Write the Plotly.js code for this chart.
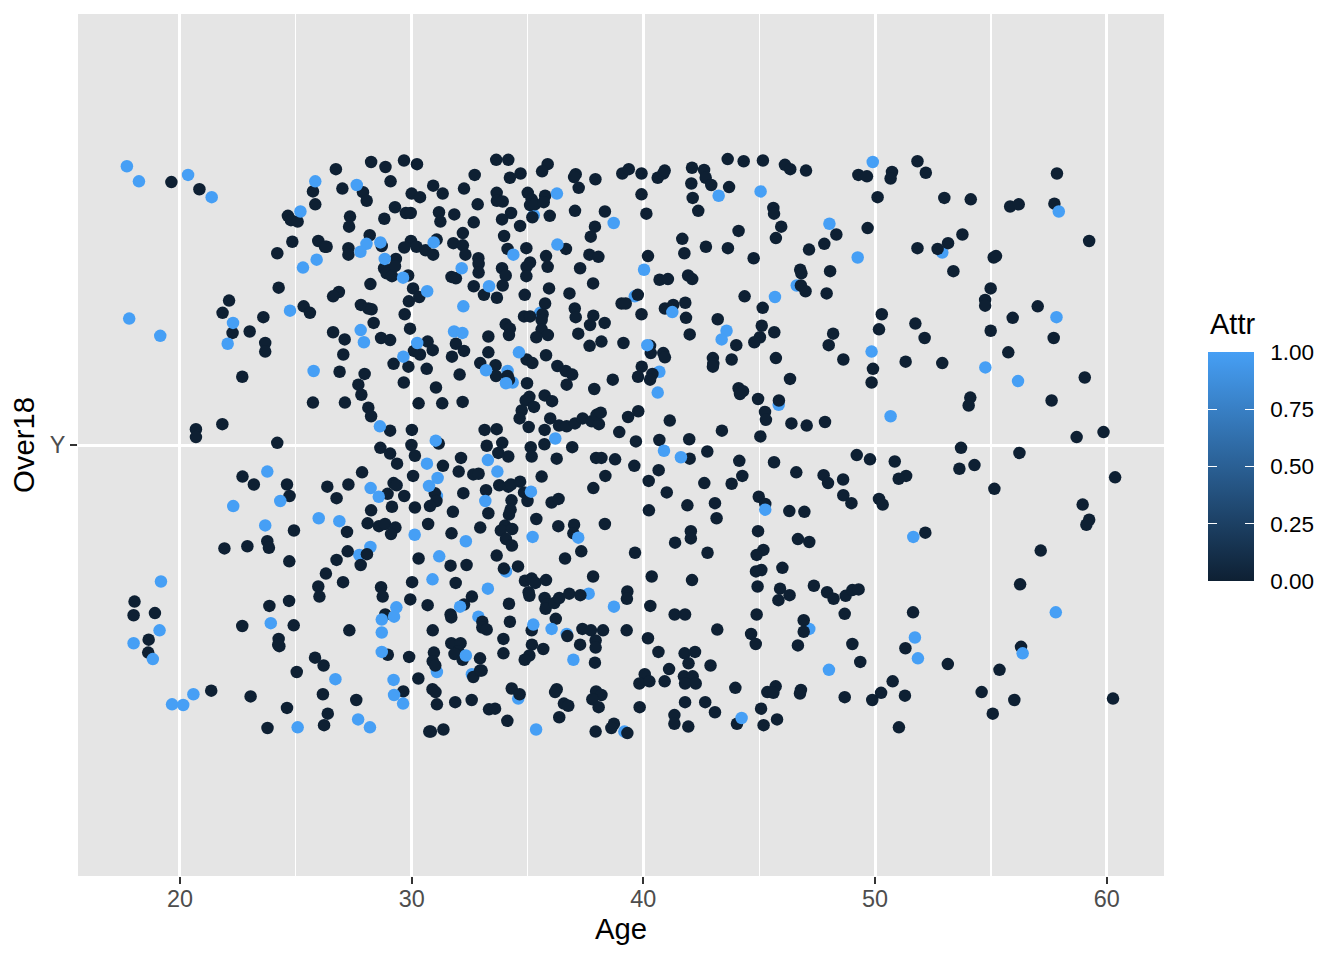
<!DOCTYPE html>
<html><head><meta charset="utf-8">
<script src="https://cdn.plot.ly/plotly-3.0.1.min.js"></script>
<style>html,body{margin:0;padding:0;background:#fff}#c{width:1344px;height:960px}</style>
</head><body><div id="c"></div>
<script>
// Each pair is [Age, jittered position of the single Over18 category "Y"]
const lightUnder = [[35.27,1.320],[46.62,1.222],[52.90,1.268],[39.63,1.207],[34.07,.824],[47.16,.744],[36.69,.737],[39.18,.601],[34.60,.647],[45.84,1.056],[32.60,.681],[34.14,1.103],[34.36,1.087],[29.07,1.240],[31.09,.929],[40.69,1.102],[32.88,.761],[37.64,.793],[28.22,.858],[27.74,.847],[31.09,.684],[35.55,1.184]];
const dark = [
[19.63,1.366],[20.84,1.356],[26.73,1.384],[28.25,1.394],[28.87,1.387],[25.74,1.353],[27.01,1.357],[27.90,1.352],[28.06,1.340],[29.09,1.367],[25.84,1.335],[29.28,1.331],[24.66,1.319],[24.79,1.313],[25.08,1.311],[27.34,1.318],[27.30,1.304],[28.82,1.315],[24.85,1.283],[24.20,1.267],[25.97,1.284],[26.26,1.276],[26.33,1.276],[28.19,1.292],[27.27,1.274],[27.27,1.265],[28.71,1.277],[29.32,1.259],[28.81,1.246],[28.92,1.239],[29.15,1.235],[29.28,1.249],[24.26,1.219],[28.22,1.224],[26.86,1.213],[26.61,1.207],[22.12,1.201],[21.84,1.184],[23.60,1.178],[25.34,1.193],[25.61,1.184],[27.81,1.195],[28.13,1.190],[28.27,1.189],[28.36,1.170],[22.27,1.156],[23.01,1.158],[26.61,1.157],[27.11,1.147],[28.68,1.149],[29.07,1.146],[23.68,1.142],
[29.67,1.396],[30.23,1.391],[33.65,1.397],[34.17,1.397],[35.87,1.391],[35.63,1.381],[34.70,1.378],[34.24,1.372],[32.72,1.376],[30.93,1.361],[32.26,1.357],[37.08,1.377],[37.01,1.373],[37.93,1.370],[37.21,1.358],[39.09,1.378],[39.37,1.384],[30.00,1.350],[30.36,1.345],[31.34,1.350],[33.67,1.351],[33.68,1.340],[33.93,1.339],[35.01,1.351],[35.18,1.342],[35.11,1.334],[35.32,1.335],[35.76,1.347],[35.70,1.338],[32.85,1.335],[29.75,1.323],[29.96,1.323],[31.18,1.324],[31.24,1.311],[31.84,1.321],[32.68,1.310],[34.29,1.323],[33.90,1.314],[35.21,1.317],[35.96,1.319],[34.68,1.305],[37.05,1.326],[38.34,1.325],[37.91,1.304],[37.73,1.290],[33.99,1.291],[32.21,1.295],[29.97,1.284],[29.68,1.275],[30.21,1.276],[31.08,1.286],[31.80,1.281],[32.21,1.278],[30.60,1.271],[30.93,1.265],[32.32,1.265],[34.14,1.273],[34.95,1.274],[36.66,1.273],[35.80,1.263],[37.67,1.265],[38.06,1.262],[32.88,1.260],[32.89,1.252],[32.89,1.240],[35.11,1.254],[34.96,1.248],[35.87,1.248],[37.27,1.246],[33.90,1.246],[34.06,1.236],[34.95,1.235],[31.72,1.234],[31.91,1.232],[29.85,1.236],[32.68,1.221],[33.93,1.222],[37.83,1.225],[35.93,1.218],[30.06,1.218],[30.33,1.206],[33.12,1.209],[33.68,1.205],[34.88,1.209],[36.81,1.211],[29.88,1.200],[35.76,1.197],[39.06,1.197],[39.24,1.197],[39.76,1.209],[29.70,1.182],[34.85,1.179],[35.11,1.179],[35.65,1.182],[35.61,1.174],[37.04,1.190],[37.08,1.178],[37.84,1.180],[37.70,1.167],[38.33,1.170],[29.93,1.162],[34.06,1.168],[34.24,1.162],[34.20,1.153],[33.31,1.151],[35.61,1.161],[35.88,1.153],[35.38,1.150],[37.19,1.155],[38.19,1.144],[37.68,1.138],[39.14,1.142],[30.69,1.144],[31.91,1.141],
[39.92,1.378],[40.62,1.372],[40.86,1.378],[40.92,1.382],[42.10,1.386],[42.62,1.383],[42.69,1.372],[42.93,1.362],[42.07,1.364],[43.64,1.398],[44.33,1.395],[45.16,1.396],[46.11,1.390],[46.34,1.384],[47.02,1.382],[49.28,1.376],[49.65,1.374],[50.73,1.380],[50.67,1.371],[51.83,1.395],[52.19,1.379],[57.85,1.378],[39.92,1.349],[43.70,1.359],[42.13,1.344],[50.11,1.345],[52.99,1.344],[54.13,1.342],[55.83,1.332],[56.20,1.335],[57.74,1.336],[42.37,1.326],[40.13,1.322],[45.61,1.330],[45.64,1.322],[45.95,1.304],[44.11,1.298],[45.72,1.288],[49.68,1.302],[48.33,1.293],[47.81,1.280],[47.15,1.272],[41.68,1.287],[42.70,1.276],[43.65,1.274],[41.77,1.267],[40.20,1.263],[44.76,1.260],[51.83,1.274],[52.70,1.273],[53.15,1.281],[53.77,1.293],[59.24,1.284],[55.12,1.261],[55.22,1.263],[40.70,1.230],[41.06,1.231],[41.93,1.236],[42.11,1.231],[46.77,1.244],[46.82,1.239],[48.06,1.242],[53.38,1.242],[46.80,1.222],[47.00,1.214],[47.91,1.211],[44.37,1.207],[54.99,1.218],[54.75,1.202],[54.75,1.194],[57.02,1.193],[41.81,1.198],[41.29,1.195],[40.93,1.190],[41.84,1.177],[39.92,1.182],[45.15,1.191],[43.21,1.175],[50.29,1.182],[55.94,1.177],[45.11,1.166],[42.00,1.154],[45.65,1.157],[45.03,1.150],[44.79,1.143],[44.01,1.139],[48.19,1.155],[48.00,1.139],[50.17,1.161],[51.74,1.169],[52.14,1.149],[54.99,1.159],[57.71,1.149],[40.29,1.138],
[23.68,1.130],[27.05,1.126],[30.10,1.131],[30.36,1.126],[30.91,1.132],[29.22,1.113],[29.86,1.109],[30.65,1.106],[26.89,1.102],[27.97,1.099],[22.69,1.095],[27.70,1.084],[29.66,1.087],[31.05,1.080],[27.83,1.070],[25.74,1.059],[27.12,1.059],[30.30,1.058],[31.32,1.058],[28.13,1.052],[28.25,1.040],[21.83,1.029],[20.69,1.022],[20.69,1.011],[29.07,1.020],[30.01,1.021],[24.20,1.003],[31.17,1.002],[29.99,1.000],[28.65,.996],[29.07,.988],[30.14,.985],[29.37,.974],[31.35,.971],[27.86,.962],[22.70,.956],[23.19,.945],[24.62,.945],[26.36,.942],[27.27,.945],[30.06,.957],[29.22,.947],[29.35,.944],[28.96,.932],[29.68,.929],[31.00,.933],[24.73,.929],[26.76,.926],[31.07,.922],[30.79,.915],[29.15,.914],[30.14,.913],[28.25,.909],[28.10,.891],[28.59,.887],[28.85,.890],[29.30,.885],[29.11,.876],[30.71,.890],[24.92,.881],[27.21,.879],
[31.74,1.123],[32.26,1.131],[33.31,1.129],[34.96,1.119],[35.21,1.114],[35.80,1.125],[40.32,1.128],[40.86,1.128],[40.93,1.122],[32.96,1.114],[33.62,1.111],[33.64,1.096],[34.14,1.096],[34.20,1.091],[32.07,1.098],[36.29,1.110],[36.65,1.103],[36.93,1.098],[34.98,1.086],[36.69,1.084],[39.93,1.109],[39.77,1.095],[40.39,1.099],[40.29,1.091],[38.68,1.091],[37.88,1.078],[35.74,1.069],[36.06,1.061],[35.08,1.067],[34.92,1.062],[35.28,1.053],[32.20,1.060],[34.75,1.048],[34.66,1.037],[35.98,1.037],[36.36,1.027],[36.69,1.026],[37.05,1.030],[37.38,1.037],[37.77,1.033],[38.08,1.029],[37.98,1.042],[38.16,1.045],[39.34,1.039],[39.78,1.047],[41.14,1.034],[35.05,1.025],[35.74,1.021],[33.15,1.021],[33.67,1.022],[38.96,1.018],[35.73,1.001],[33.91,1.003],[39.68,1.005],[40.69,1.007],[33.24,.999],[35.14,.997],[36.93,.997],[33.74,.989],[34.17,.984],[35.18,.984],[32.13,.982],[36.26,.981],[37.96,.982],[38.19,.982],[38.78,.980],[39.61,.971],[40.66,.965],[32.03,.963],[32.66,.959],[32.89,.960],[35.61,.956],[38.36,.957],[40.23,.950],[33.78,.944],[34.17,.942],[34.29,.945],[34.68,.949],[37.84,.940],[33.21,.937],[32.23,.933],[34.85,.934],[41.01,.934],[35.00,.922],[34.31,.923],[36.04,.920],[36.34,.925],[34.27,.910],[34.20,.903],[31.78,.907],[33.31,.905],[40.24,.909],[35.38,.897],[32.96,.885],[34.03,.888],[33.85,.881],[34.34,.883],[36.33,.887],[37.01,.889],[36.98,.877],[38.34,.890],[31.72,.877],
[43.00,1.121],[43.02,1.113],[43.00,1.109],[43.81,1.119],[45.72,1.121],[48.63,1.119],[51.32,1.116],[52.90,1.114],[55.75,1.129],[49.91,1.106],[46.33,1.092],[49.85,1.087],[59.05,1.094],[44.11,1.079],[44.30,1.075],[44.17,1.071],[44.95,1.064],[45.85,1.062],[54.11,1.066],[54.04,1.055],[57.62,1.062],[45.25,1.046],[45.29,1.035],[46.39,1.030],[47.05,1.027],[47.84,1.032],[43.39,1.020],[45.05,1.012],[41.98,1.008],[58.70,1.011],[59.86,1.018],[42.76,.991],[53.71,.996],[56.23,.989],[49.21,.986],[49.78,.980],[50.85,.977],[42.00,.981],[44.14,.978],[45.64,.976],[46.60,.962],[44.27,.957],[47.78,.958],[47.97,.947],[48.62,.952],[42.63,.947],[43.81,.946],[53.64,.967],[54.29,.972],[51.34,.957],[51.02,.953],[55.15,.939],[60.36,.955],[48.63,.930],[48.98,.919],[50.17,.925],[50.33,.917],[44.98,.928],[45.26,.918],[43.09,.919],[41.90,.916],[43.16,.898],[46.30,.908],[46.95,.907],[58.96,.917],[59.24,.896],[59.12,.889],[42.05,.880],[44.95,.880],[52.17,.878],
[21.92,.856],[22.91,.859],[23.77,.866],[23.84,.857],[24.72,.838],[27.24,.852],[28.07,.848],[26.76,.840],[27.80,.833],[30.30,.842],[26.30,.821],[27.04,.809],[25.97,.803],[26.02,.789],[30.02,.809],[28.68,.802],[28.75,.789],[29.94,.785],[18.04,.782],[18.00,.763],[18.92,.766],[24.71,.783],[23.86,.776],[30.69,.777],[28.86,.764],[22.69,.748],[24.91,.749],[27.31,.742],[30.91,.742],[18.65,.729],[18.63,.711],[24.26,.730],[24.29,.720],[24.24,.722],[28.97,.708],[29.89,.705],[25.83,.704],[26.20,.693],[25.04,.684],[30.29,.675],[29.64,.657],[26.17,.653],[27.61,.645],[21.35,.658],[23.05,.650],[24.62,.634],[26.38,.626],[26.22,.610],[23.78,.606],[30.76,.601],
[34.07,.869],[34.33,.860],[33.67,.846],[31.68,.832],[32.37,.833],[33.98,.828],[34.59,.831],[36.62,.842],[37.32,.852],[39.64,.850],[41.37,.864],[31.90,.808],[34.89,.811],[35.18,.814],[35.34,.808],[35.80,.812],[37.83,.817],[40.36,.817],[35.05,.795],[35.08,.790],[32.60,.789],[32.26,.778],[35.74,.787],[35.83,.778],[35.78,.772],[36.16,.780],[36.37,.787],[36.80,.793],[37.28,.791],[39.31,.796],[39.29,.786],[34.20,.779],[40.30,.776],[31.68,.764],[31.71,.760],[33.05,.754],[33.05,.746],[33.24,.743],[34.24,.754],[36.22,.758],[41.35,.764],[35.18,.742],[36.72,.734],[37.37,.744],[37.74,.742],[38.26,.742],[39.28,.742],[40.20,.731],[37.94,.728],[37.94,.718],[37.27,.722],[33.96,.730],[35.19,.722],[35.68,.716],[40.65,.712],[31.71,.724],[32.11,.724],[32.01,.713],[31.85,.709],[32.20,.701],[32.95,.703],[33.96,.710],[35.08,.707],[34.88,.701],[37.91,.697],[30.96,.711],[30.91,.699],[31.02,.693],[41.11,.688],[40.06,.681],[39.83,.668],[40.26,.671],[40.92,.671],[32.66,.677],[32.95,.686],[33.02,.686],[30.90,.660],[31.03,.656],[34.32,.661],[34.66,.653],[36.26,.660],[36.19,.656],[37.96,.657],[38.19,.652],[37.80,.646],[31.09,.639],[31.88,.642],[32.59,.645],[33.34,.632],[33.60,.633],[36.57,.640],[36.76,.637],[38.07,.635],[39.84,.635],[36.37,.621],[34.13,.616],[41.34,.624],[41.34,.612],[38.73,.612],[38.62,.606],[37.94,.601],[39.31,.599],[31.37,.604],[30.83,.601],
[42.05,.870],[46.67,.869],[47.16,.865],[42.77,.850],[45.18,.854],[44.89,.847],[57.15,.853],[46.00,.829],[44.86,.824],[45.09,.826],[42.10,.812],[44.93,.803],[45.90,.800],[46.31,.791],[45.83,.784],[47.36,.804],[47.93,.795],[48.21,.786],[48.73,.790],[49.02,.798],[49.29,.799],[56.26,.806],[41.80,.764],[44.89,.764],[48.69,.765],[51.64,.767],[43.19,.743],[44.65,.737],[44.85,.723],[46.92,.756],[46.92,.740],[46.67,.721],[49.02,.723],[51.31,.717],[56.30,.719],[41.78,.710],[42.23,.712],[41.95,.696],[42.90,.693],[49.36,.698],[53.14,.695],[55.37,.687],[41.75,.678],[42.13,.678],[41.80,.668],[42.26,.668],[43.97,.662],[45.71,.664],[45.35,.656],[45.61,.655],[46.80,.659],[46.76,.654],[48.69,.649],[49.88,.645],[50.26,.655],[50.76,.671],[51.29,.651],[54.60,.656],[56.01,.645],[60.27,.647],[55.08,.626],[41.80,.642],[42.67,.642],[43.09,.628],[45.08,.633],[44.04,.612],[45.19,.610],[45.77,.618],[41.94,.608],[51.03,.607]
];
const lightOver = [[17.71,1.388],[18.23,1.367],[20.35,1.376],[21.37,1.345],[25.84,1.367],[27.63,1.362],[25.20,1.325],[28.05,1.280],[27.79,1.269],[28.65,1.282],[25.90,1.258],[25.31,1.247],[28.84,1.259],[24.75,1.187],[17.81,1.176],[19.15,1.152],[22.29,1.170],[27.80,1.160],[27.94,1.143],[22.06,1.141],
[36.27,1.350],[38.72,1.309],[30.95,1.282],[34.39,1.265],[36.29,1.279],[32.16,1.246],[29.63,1.233],[33.34,1.221],[30.67,1.214],[32.23,1.193],[31.83,1.158],[32.19,1.156],[30.24,1.142],
[49.90,1.394],[43.25,1.347],[45.06,1.353],[57.93,1.325],[48.03,1.308],[49.25,1.261],[40.03,1.244],[45.68,1.206],[41.25,1.185],[57.83,1.178],[43.59,1.159],[43.38,1.147],[40.17,1.139],
[29.64,1.123],[25.77,1.103],[28.63,1.026],[31.04,1.006],[30.66,.974],[23.77,.963],[31.12,.954],[30.75,.943],[28.23,.940],[28.58,.928],[24.33,.922],[22.30,.915],[25.99,.898],[26.88,.894],[30.13,.875],[23.68,.888],
[34.63,1.129],[33.21,1.104],[34.07,1.086],[40.62,1.073],[36.20,1.009],[40.89,.992],[33.29,.979],[41.62,.983],[33.70,.963],[35.15,.935],[33.18,.922],[37.19,.871],[35.22,.872],
[49.85,1.130],[54.76,1.108],[56.17,1.089],[50.67,1.040],[45.26,.910],[51.65,.872],
[19.18,.810],[29.34,.774],[29.24,.761],[28.71,.757],[23.92,.752],[19.12,.742],[28.71,.739],[18.00,.724],[18.83,.702],[28.71,.712],[26.71,.674],[29.22,.673],[29.24,.652],[29.63,.640],[20.58,.653],[19.66,.639],[20.14,.638],[27.69,.618],[28.20,.607],[25.08,.607],
[32.34,.866],[31.19,.845],[30.90,.813],[33.29,.800],[32.09,.775],[38.73,.775],[35.25,.750],[36.04,.744],[32.34,.707],[36.98,.701],[35.37,.604],
[57.80,.767],[51.72,.732],[51.85,.703],[56.37,.710],[48.01,.687],[44.24,.620]
];
const xTicks = [20,30,40,50,60];
const colorTicks = [0,0.25,0.5,0.75,1];
const colorLabels = ['\u20020.00','\u20020.25','\u20020.50','\u20020.75','\u20021.00'];

const pts = lightUnder.map(p=>[p[0],p[1],1]).concat(dark.map(p=>[p[0],p[1],0]), lightOver.map(p=>[p[0],p[1],1]));
const FONT = '"Liberation Sans", Arial, sans-serif';
const barLeft = 1130/1086, barBottom = 295/862;
const barBase = {
  x:barLeft, xanchor:'left', xpad:0, ypad:0, len:229, lenmode:'pixels',
  y:barBottom, yanchor:'bottom', outlinewidth:0,
  tickmode:'array', tickvals:colorTicks,
  ticks:'inside', ticklen:9, tickwidth:1, tickcolor:'#fff'
};
const trace = {
  type:'scatter', mode:'markers',
  x: pts.map(p=>p[0]), y: pts.map(p=>p[1]),
  hoverinfo:'skip',
  marker:{
    size:12.5, color: pts.map(p=>p[2]), cmin:0, cmax:1, line:{width:0},
    colorscale:[[0,'#0E2033'],[1,'#469FF5']],
    colorbar:Object.assign({}, barBase, {
      thickness:46, thicknessmode:'pixels', ticktext:colorLabels,
      tickfont:{family:FONT,size:22.5,color:'#000'}
    })
  }
};
// An empty trace whose see-through bar only adds the left-hand ticks of the colour bar.
const leftTickTrace = {
  type:'scatter', mode:'markers', x:[null,null], y:[null,null], hoverinfo:'skip', showlegend:false,
  marker:{
    color:[0,1], cmin:0, cmax:1,
    colorscale:[[0,'rgba(0,0,0,0)'],[1,'rgba(0,0,0,0)']],
    colorbar:Object.assign({}, barBase, {thickness:9, thicknessmode:'pixels', showticklabels:false})
  }
};
const layout = {
  width:1344, height:960,
  margin:{l:78,r:180,t:14,b:84,pad:0},
  paper_bgcolor:'#fff', plot_bgcolor:'#E5E5E5',
  showlegend:false,
  annotations:[{
    xref:'paper', yref:'paper', x:1131/1086, y:552/862, xanchor:'left', yanchor:'middle',
    text:'Attr', showarrow:false, font:{family:FONT,size:29,color:'#000'}, borderpad:0
  }],
  xaxis:{
    range:[15.6,62.47], tickmode:'array', tickvals:xTicks, zeroline:false,
    showgrid:true, gridcolor:'#fff', gridwidth:3, layer:'below traces',
    minor:{tickmode:'array', tickvals:[25,35,45,55], showgrid:true, gridcolor:'#fff', gridwidth:1.3, ticks:''},
    ticks:'outside', ticklen:7, tickwidth:2, tickcolor:'#333', ticklabelstandoff:-5,
    tickfont:{family:FONT,size:23.4,color:'#4D4D4D'},
    title:{text:'Age', font:{family:FONT,size:29.3,color:'#000'}, standoff:6}, automargin:false
  },
  yaxis:{
    range:[0.4,1.6], tickmode:'array', tickvals:[1], ticktext:['Y'], zeroline:false,
    showgrid:true, gridcolor:'#fff', gridwidth:3,
    ticks:'outside', ticklen:7, tickwidth:2, tickcolor:'#333',
    tickfont:{family:FONT,size:23.4,color:'#4D4D4D'},
    title:{text:'Over18', font:{family:FONT,size:29.3,color:'#000'}, standoff:6}, automargin:false
  }
};
Plotly.newPlot('c',[trace,leftTickTrace],layout,{displayModeBar:false,staticPlot:true});
</script></body></html>
